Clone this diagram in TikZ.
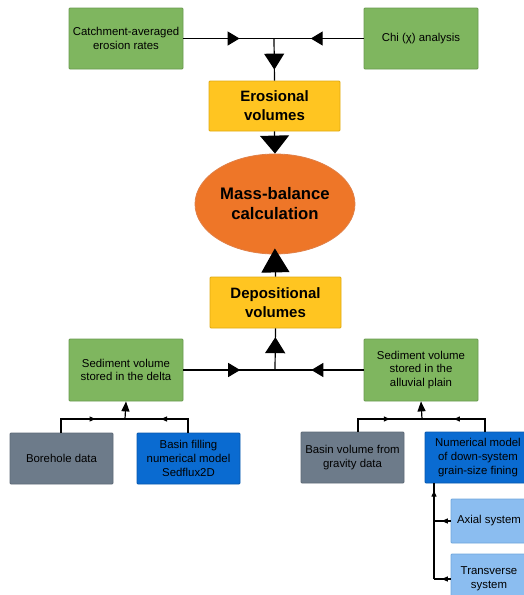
\documentclass[tikz,border=0pt]{standalone}
\usepackage{fontspec}
\setmainfont{Liberation Sans}
\usetikzlibrary{arrows.meta,shapes.geometric,decorations.markings}
\definecolor{grn}{HTML}{7FB65F}
\definecolor{grnd}{HTML}{6A9A4F}
\definecolor{yel}{HTML}{FFC521}
\definecolor{yeld}{HTML}{E0AA10}
\definecolor{org}{HTML}{EE7628}
\definecolor{orgd}{HTML}{E08048}
\definecolor{gry}{HTML}{6D7B8A}
\definecolor{gryd}{HTML}{5E6A77}
\definecolor{blu}{HTML}{0A6BD1}
\definecolor{blud}{HTML}{0858AE}
\definecolor{lblu}{HTML}{8BBDF0}
\definecolor{lblud}{HTML}{6FA6DC}
\tikzset{
  box/.style={rectangle, rounded corners=1pt, line width=0.8pt, align=center, inner sep=2pt, font=\fontsize{11.4}{13.6}\selectfont},
  gbox/.style={box, fill=grn, draw=grnd, minimum width=114, minimum height=61},
  ybox/.style={box, fill=yel, draw=yeld, minimum width=131, minimum height=50, font=\fontsize{15}{19}\selectfont\bfseries},
  graybox/.style={box, fill=gry, draw=gryd, minimum width=103, minimum height=51},
  bbox/.style={box, fill=blu, draw=blud, minimum width=103, minimum height=51},
  lbbox/.style={box, fill=lblu, draw=lblud, minimum width=76, minimum height=44},
  conn/.style={line width=1.2pt, black},
  midtip/.style 2 args={postaction={decorate}, decoration={markings, mark=at position #1 with {\arrow{#2}}}},
  bigT/.tip={Triangle[width=14pt,length=12pt]},
  smallT/.tip={Triangle[width=5pt,length=6pt]},
}
\begin{document}
\begin{tikzpicture}[x=1pt,y=-1pt]
\useasboundingbox (0,0) rectangle (524,595);
\clip (0,0) rectangle (524,595);
% nodes
\node[gbox] (catch) at (126,38.5) {Catchment-averaged\\erosion rates};
\node[gbox] (chi) at (421,38.5) {Chi (χ) analysis};
\coordinate (j1) at (274,38.5);
\node[ybox] (ero) at (274.5,106) {Erosional\\volumes};
\node[ellipse, fill=org, draw=orgd, line width=0.8pt, minimum width=160, minimum height=100, inner sep=0pt, align=center, font=\fontsize{16.7}{20}\selectfont\bfseries] (mb) at (275,204) {Mass-balance\\calculation};
\node[ybox, minimum height=51] (dep) at (275.5,302.5) {Depositional\\volumes};
\coordinate (j2) at (275,370);
\node[gbox, minimum height=62] (delta) at (126,370) {Sediment volume\\stored in the delta};
\node[gbox, minimum height=62] (alluv) at (421,370) {Sediment volume\\stored in the\\alluvial plain};
\coordinate (j3) at (125,419);
\node[graybox] (bore) at (61.5,458.5) {Borehole data};
\node[bbox] (basin) at (188.5,458.5) {Basin filling\\numerical model\\Sedflux2D};
\coordinate (j4) at (422,419);
\node[graybox] (grav) at (352.5,457.5) {Basin volume from\\gravity data};
\node[bbox, minimum width=106] (num) at (478,457.5) {Numerical model\\of down-system\\grain-size fining};
\coordinate (numtop) at (485,432);
\coordinate (numbot) at (434,483);
\node[lbbox] (axial) at (489,521) {Axial system};
\node[lbbox, minimum height=50] (trans) at (489,579) {Transverse\\system};
\coordinate (v) at (434,579);
% connectors top
\draw[conn, midtip={0.62}{bigT}] (catch.east) -- (j1);
\draw[conn, midtip={0.59}{bigT}] (chi.west) -- (j1);
\draw[conn, midtip={0.74}{Triangle[width=20pt,length=16pt]}] (j1) -- (ero.north);
\draw[conn, -{Triangle[width=29pt,length=18pt]}] (ero.south) -- (mb.north);
\draw[conn, -{Triangle[width=28pt,length=24pt]}, shorten >=-6pt] (dep.north) -- (mb.south);
% depositional
\draw[conn, midtip={0.62}{bigT}] (delta.east) -- (j2);
\draw[conn, midtip={0.59}{bigT}] (alluv.west) -- (j2);
\draw[conn, midtip={0.79}{Triangle[width=20pt,length=16pt]}] (j2) -- (dep.south);
% delta inputs
\draw[conn, midtip={0.62}{smallT}] (bore.north -| 61,0) |- (j3);
\draw[conn, midtip={0.53}{smallT}] (basin.north -| 188,0) |- (j3);
\draw[conn, -{Triangle[width=8pt,length=10pt]}] (j3) -- (delta.south);
% alluvial inputs
\draw[conn, midtip={0.58}{smallT}] (grav.north -| 358,0) |- (j4);
\draw[conn, midtip={0.58}{smallT}] (numtop) |- (j4);
\draw[conn, -{Triangle[width=8pt,length=10pt]}] (j4) -- (alluv.south);
% numerical model inputs
\draw[conn, midtip={0.92}{smallT}] (v) -- (numbot);
\draw[conn, midtip={0.53}{smallT}] (axial.west) -- (axial.west -| v);
\draw[conn, midtip={0.53}{smallT}] (trans.west) -- (v);
\end{tikzpicture}
\end{document}
